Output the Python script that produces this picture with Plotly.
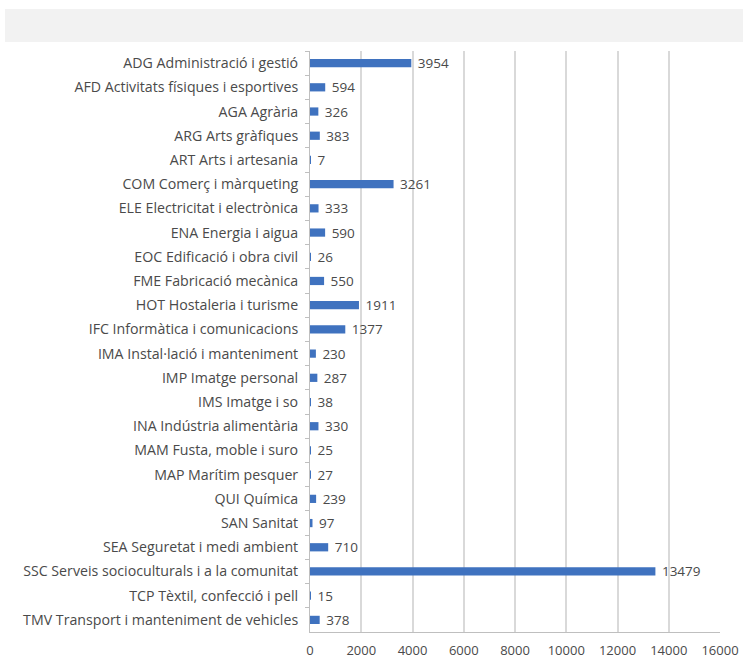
import plotly.graph_objects as go

# Alumnes per família professional
families = [
    "ADG Administració i gestió",
    "AFD Activitats físiques i esportives",
    "AGA Agrària",
    "ARG Arts gràfiques",
    "ART Arts i artesania",
    "COM Comerç i màrqueting",
    "ELE Electricitat i electrònica",
    "ENA Energia i aigua",
    "EOC Edificació i obra civil",
    "FME Fabricació mecànica",
    "HOT Hostaleria i turisme",
    "IFC Informàtica i comunicacions",
    "IMA Instal·lació i manteniment",
    "IMP Imatge personal",
    "IMS Imatge i so",
    "INA Indústria alimentària",
    "MAM Fusta, moble i suro",
    "MAP Marítim pesquer",
    "QUI Química",
    "SAN Sanitat",
    "SEA Seguretat i medi ambient",
    "SSC Serveis socioculturals i a la comunitat",
    "TCP Tèxtil, confecció i pell",
    "TMV Transport i manteniment de vehicles",
]
students = [3954, 594, 326, 383, 7, 3261, 333, 590, 26, 550, 1911, 1377,
            230, 287, 38, 330, 25, 27, 239, 97, 710, 13479, 15, 378]

x_ticks = [0, 2000, 4000, 6000, 8000, 10000, 12000, 14000, 16000]

FONT = "Open Sans"
TEXT = "#4A4A4A"
GRID = "#D9D9D9"

W, H = 743, 662
L, R, T, B = 310, 23, 51, 30
PW, PH = W - L - R, H - T - B

fig = go.Figure(
    go.Bar(
        x=students,
        y=families,
        orientation="h",
        marker=dict(color="#3F72BF", line=dict(width=0)),
        text=[" " + str(v) for v in students],
        textposition="outside",
        constraintext="none",
        textfont=dict(family=FONT, size=13.5, color=TEXT),
        cliponaxis=False,
    )
)

fig.update_layout(
    width=W,
    height=H,
    margin=dict(l=L, r=R, t=T, b=B, autoexpand=False),
    paper_bgcolor="white",
    plot_bgcolor="white",
    bargap=0.66,
    showlegend=False,
    font=dict(family=FONT, size=13, color=TEXT),
    shapes=[
        # empty title band across the top
        dict(type="rect", xref="paper", yref="paper",
             x0=-(L - 5) / PW, x1=1 + R / PW,
             y0=1 + (T - 42) / PH, y1=1 + (T - 9) / PH,
             fillcolor="#F2F2F2", line=dict(width=0), layer="below"),
    ],
)

fig.update_xaxes(
    range=[0, 16000],
    tickvals=x_ticks,
    ticktext=[str(t) for t in x_ticks],
    showgrid=True,
    gridcolor=GRID,
    gridwidth=1.5,
    zeroline=False,
    showline=True,
    linecolor="#BFBFBF",
    linewidth=1,
    ticks="",
    ticklabelstandoff=6,
    automargin=False,
    tickfont=dict(family=FONT, size=13, color=TEXT),
    fixedrange=True,
)

fig.update_yaxes(
    autorange="reversed",
    showgrid=False,
    showline=True,
    linecolor="#BFBFBF",
    linewidth=1,
    ticks="outside",
    tickson="boundaries",
    ticklen=4,
    tickcolor="#BFBFBF",
    tickfont=dict(family=FONT, size=14.2, color=TEXT),
    ticklabelstandoff=8,
    automargin=False,
    fixedrange=True,
)

fig.write_html("out.html")
